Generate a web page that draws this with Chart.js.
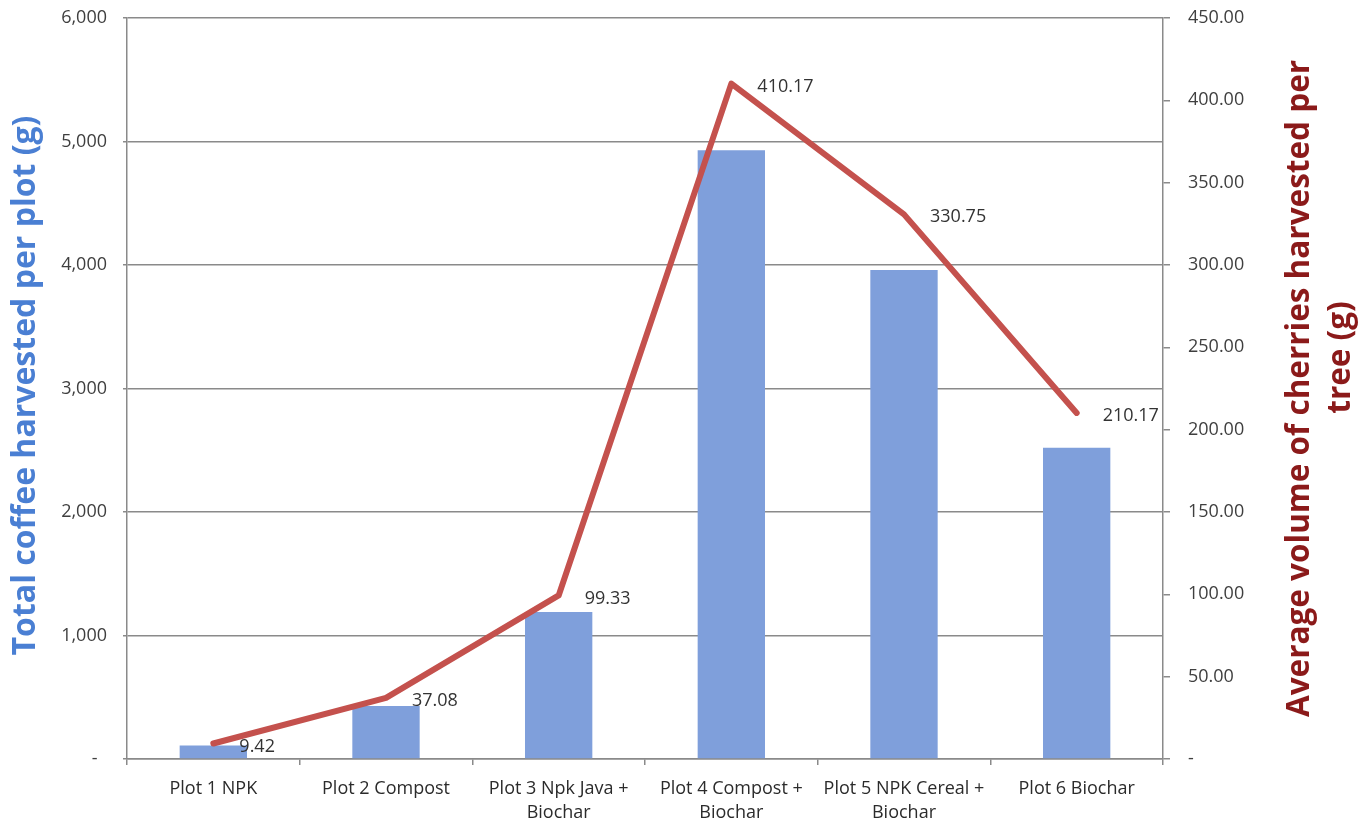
<!DOCTYPE html>
<html>
<head>
<meta charset="utf-8">
<title>Coffee harvest by plot</title>
<script src="https://cdn.jsdelivr.net/npm/chart.js@4.4.0/dist/chart.umd.min.js"></script>
<style>
  html, body { margin: 0; padding: 0; background: #ffffff; }
  #wrap { width: 1365px; height: 825px; position: relative; }
</style>
</head>
<body>
<div id="wrap"><canvas id="chart"></canvas></div>
<script>
// Treatments (x categories), wrapped the way they appear under the axis
const plots = [
  ['Plot 1 NPK'],
  ['Plot 2 Compost'],
  ['Plot 3 Npk Java +', 'Biochar'],
  ['Plot 4 Compost +', 'Biochar'],
  ['Plot 5 NPK Cereal +', 'Biochar'],
  ['Plot 6 Biochar']
];

// Total coffee harvested per plot (g) - bars, left axis
const totalHarvest = [110, 430, 1190, 4930, 3960, 2520];

// Average volume of cherries harvested per tree (g) - line, right axis
const avgCherries = [9.42, 37.08, 99.33, 410.17, 330.75, 210.17];

// Axis titles
const leftTitle = 'Total coffee harvested per plot (g)';
const rightTitle = ['Average volume of cherries harvested per', 'tree (g)'];

const FONT = '"Open Sans", "Noto Sans", sans-serif';
const AXIS_GREY = '#8a8a8a';
const TICK_TEXT = '#3f3f3f';
const BAR_BLUE = '#7f9fdb';
const LINE_RED = '#c4514d';
const LEFT_TITLE_BLUE = '#4a7fd3';
const RIGHT_TITLE_RED = '#8b1a1a';

// Values printed beside each point of the line
const lineLabels = {
  id: 'lineLabels',
  afterDatasetsDraw(chart) {
    const meta = chart.getDatasetMeta(1);
    const values = chart.data.datasets[1].data;
    const ctx = chart.ctx;
    ctx.save();
    ctx.font = '18px ' + FONT;
    ctx.fillStyle = '#333333';
    ctx.textAlign = 'left';
    ctx.textBaseline = 'middle';
    meta.data.forEach((pt, i) => {
      ctx.fillText(values[i].toFixed(2), pt.x + 26, pt.y + 3);
    });
    ctx.restore();
  }
};

// Rotated axis titles, both reading bottom-to-top
const axisTitles = {
  id: 'axisTitles',
  afterDraw(chart) {
    const ctx = chart.ctx;
    const area = chart.chartArea;
    const midY = (area.top + area.bottom) / 2;
    ctx.save();
    ctx.font = 'bold 32px ' + FONT;
    ctx.textAlign = 'center';
    ctx.textBaseline = 'middle';

    ctx.save();
    ctx.translate(26, midY - 3);
    ctx.rotate(-Math.PI / 2);
    ctx.fillStyle = LEFT_TITLE_BLUE;
    ctx.fillText(leftTitle, 0, 0);
    ctx.restore();

    ctx.font = 'bold 31.5px ' + FONT;
    ctx.fillStyle = RIGHT_TITLE_RED;
    ctx.save();
    ctx.translate(1300, midY);
    ctx.rotate(-Math.PI / 2);
    ctx.fillText(rightTitle[0], 0, 0);
    ctx.restore();

    ctx.save();
    ctx.translate(1341, midY - 31);
    ctx.rotate(-Math.PI / 2);
    ctx.fillText(rightTitle[1], 0, 0);
    ctx.restore();

    ctx.restore();
  }
};

// Keep the value axes from reserving extra room for half tick labels
const noEdgePadding = (scale) => {
  scale.paddingTop = 0;
  scale.paddingBottom = 0;
};

new Chart(document.getElementById('chart'), {
  data: {
    labels: plots,
    datasets: [
      {
        type: 'bar',
        label: 'Total coffee harvested per plot (g)',
        data: totalHarvest,
        backgroundColor: BAR_BLUE,
        borderWidth: 0,
        yAxisID: 'y',
        categoryPercentage: 1.0,
        barPercentage: 0.39,
        order: 2
      },
      {
        type: 'line',
        label: 'Average volume of cherries harvested per tree (g)',
        data: avgCherries,
        borderColor: LINE_RED,
        backgroundColor: LINE_RED,
        borderWidth: 6,
        pointRadius: 0,
        tension: 0,
        borderJoinStyle: 'round',
        borderCapStyle: 'round',
        yAxisID: 'y1',
        order: 1
      }
    ]
  },
  options: {
    responsive: true,
    maintainAspectRatio: false,
    animation: false,
    events: [],
    layout: { padding: { top: 18, left: 0, right: 0, bottom: 0 } },
    plugins: {
      legend: { display: false },
      tooltip: { enabled: false },
      title: { display: false }
    },
    scales: {
      x: {
        grid: {
          offset: true,
          drawOnChartArea: false,
          drawTicks: true,
          tickLength: 6,
          color: AXIS_GREY,
          lineWidth: 1.5
        },
        border: { display: true, color: AXIS_GREY, width: 1.5 },
        ticks: {
          color: '#2b2b2b',
          font: { family: FONT, size: 18, lineHeight: 1.33 },
          padding: 12,
          maxRotation: 0,
          autoSkip: false
        },
        afterFit(scale) { scale.height = 66; }
      },
      y: {
        position: 'left',
        min: 0,
        max: 6000,
        ticks: {
          stepSize: 1000,
          color: TICK_TEXT,
          font: { family: FONT, size: 18 },
          padding: 16,
          callback: (v) => v === 0 ? '-  ' : v.toLocaleString('en-US')
        },
        grid: {
          color: AXIS_GREY,
          lineWidth: 1.5,
          drawTicks: true,
          tickLength: 4
        },
        border: { display: true, color: AXIS_GREY, width: 1.5 },
        afterFit(scale) { scale.width = 127; noEdgePadding(scale); }
      },
      y1: {
        position: 'right',
        min: 0,
        max: 450,
        ticks: {
          stepSize: 50,
          color: TICK_TEXT,
          font: { family: FONT, size: 18 },
          padding: 18,
          callback: (v) => v === 0 ? '-' : v.toFixed(2)
        },
        grid: {
          drawOnChartArea: false,
          drawTicks: true,
          tickLength: 7,
          color: AXIS_GREY,
          lineWidth: 1.5
        },
        border: { display: true, color: AXIS_GREY, width: 1.5 },
        afterFit(scale) { scale.width = 202; noEdgePadding(scale); }
      }
    }
  },
  plugins: [lineLabels, axisTitles]
});
</script>
</body>
</html>
